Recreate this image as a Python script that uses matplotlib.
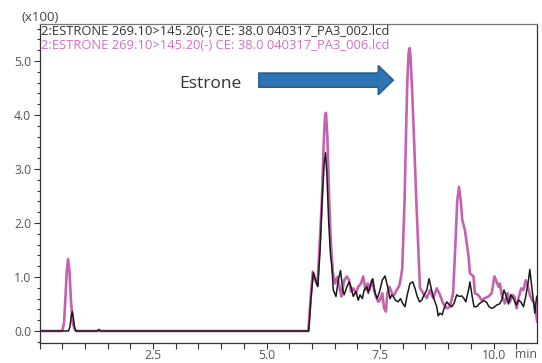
import matplotlib.pyplot as plt
from matplotlib.patches import FancyArrow
from matplotlib.ticker import MultipleLocator, FixedLocator

# chromatogram traces, intensity in units of 100
pink_t = [0.00, 0.50, 0.54, 0.57, 0.60, 0.63, 0.66, 0.69, 0.73, 0.78, 0.82,
          5.92, 5.97, 6.02, 6.07, 6.12, 6.17, 6.22, 6.26, 6.29, 6.31, 6.34, 6.38, 6.42, 6.46,
          6.51, 6.56, 6.62, 6.65, 6.71, 6.77, 6.82, 6.86, 6.91, 6.97, 7.02, 7.08, 7.13, 7.18,
          7.23, 7.27, 7.32, 7.37, 7.41, 7.46, 7.50, 7.55, 7.59, 7.63, 7.66, 7.71, 7.76, 7.81,
          7.87, 7.92, 7.95, 7.99, 8.04, 8.07, 8.10, 8.13, 8.15, 8.17, 8.21, 8.25, 8.30, 8.35,
          8.38, 8.45, 8.53, 8.60, 8.67, 8.75, 8.82, 8.89, 8.97, 9.04, 9.11, 9.16, 9.20, 9.24,
          9.28, 9.31, 9.37, 9.45, 9.48, 9.56, 9.59, 9.66, 9.74, 9.81, 9.89, 9.96, 10.02, 10.07,
          10.11, 10.14, 10.18, 10.25, 10.31, 10.36, 10.41, 10.46, 10.51, 10.56, 10.61, 10.66,
          10.71, 10.75, 10.80, 10.85, 10.91, 10.96]
pink_y = [0.00, 0.00, 0.15, 0.60, 1.10, 1.33, 1.10, 0.60, 0.15, 0.02, 0.00,
          0.00, 0.60, 1.10, 0.95, 0.85, 1.60, 2.43, 3.50, 4.00, 4.04, 3.60, 2.43, 1.60, 1.10,
          0.88, 1.00, 0.76, 0.64, 0.94, 1.01, 0.94, 0.73, 0.79, 0.70, 0.82, 0.88, 1.01, 0.76,
          0.88, 0.76, 0.94, 0.76, 0.64, 0.54, 0.57, 0.70, 0.42, 0.36, 0.70, 0.82, 0.70, 0.67,
          0.76, 0.83, 0.94, 1.16, 2.40, 3.54, 4.60, 5.15, 5.24, 5.10, 4.40, 3.54, 2.40, 1.40,
          0.80, 0.70, 0.61, 0.76, 0.61, 0.79, 0.67, 0.51, 0.42, 0.45, 0.70, 1.60, 2.40, 2.67,
          2.40, 2.06, 1.87, 1.38, 1.07, 1.01, 0.70, 0.67, 0.57, 0.61, 0.64, 0.70, 1.01, 0.91,
          0.82, 0.88, 0.67, 0.51, 0.70, 0.54, 0.67, 0.64, 0.42, 0.64, 0.79, 0.76,
          0.94, 0.85, 0.67, 0.57, 0.51, 0.17]

black_t = [0.00, 0.64, 0.67, 0.70, 0.72, 0.74, 0.77, 0.80, 1.27, 1.31, 1.35,
           5.93, 5.98, 6.03, 6.08, 6.13, 6.18, 6.23, 6.27, 6.30, 6.33, 6.37, 6.41, 6.44, 6.47,
           6.53, 6.58, 6.63, 6.68, 6.71, 6.77, 6.82, 6.86, 6.91, 6.97, 7.02, 7.06, 7.11, 7.15,
           7.21, 7.24, 7.28, 7.34, 7.39, 7.44, 7.50, 7.55, 7.61, 7.66, 7.72, 7.76, 7.79, 7.84,
           7.90, 7.95, 8.00, 8.05, 8.10, 8.16, 8.22, 8.27, 8.32, 8.37, 8.42, 8.47, 8.53, 8.58,
           8.62, 8.67, 8.71, 8.75, 8.78, 8.82, 8.87, 8.91, 8.97, 9.03, 9.08, 9.13, 9.19, 9.24,
           9.30, 9.35, 9.39, 9.45, 9.48, 9.53, 9.57, 9.63, 9.68, 9.74, 9.79, 9.85, 9.90, 9.96,
           10.01, 10.07, 10.13, 10.18, 10.23, 10.27, 10.33, 10.38, 10.44, 10.50, 10.55, 10.60,
           10.66, 10.71, 10.77, 10.80, 10.85, 10.91, 10.95]
black_y = [0.00, 0.00, 0.08, 0.28, 0.36, 0.28, 0.08, 0.00, 0.00, 0.03, 0.00,
           0.00, 0.60, 1.08, 0.95, 0.82, 1.50, 2.50, 3.10, 3.30, 2.90, 2.00, 1.40, 1.19, 0.76,
           0.64, 0.94, 1.12, 0.76, 0.67, 0.82, 0.91, 0.82, 0.64, 0.73, 0.57, 0.67, 0.60, 0.76,
           0.82, 0.70, 0.82, 0.97, 0.70, 0.60, 0.76, 0.94, 1.02, 0.85, 0.60, 0.67, 0.64, 0.57,
           0.54, 0.60, 0.51, 0.45, 0.67, 0.88, 0.91, 0.79, 0.64, 0.54, 0.57, 0.67, 0.76, 0.97,
           0.82, 0.64, 0.54, 0.45, 0.28, 0.33, 0.30, 0.42, 0.54, 0.48, 0.45, 0.51, 0.67, 0.64,
           0.65, 0.60, 0.54, 0.76, 0.91, 0.64, 0.45, 0.45, 0.50, 0.54, 0.56, 0.53, 0.45, 0.42,
           0.44, 0.48, 0.50, 0.57, 0.76, 0.67, 0.50, 0.67, 0.60, 0.48, 0.57, 0.54,
           0.45, 0.64, 0.94, 1.14, 0.76, 0.33, 0.64]

trace_labels = ['2:ESTRONE 269.10>145.20(-) CE: 38.0 040317_PA3_002.lcd',
                '2:ESTRONE 269.10>145.20(-) CE: 38.0 040317_PA3_006.lcd']
x_ticks = [2.5, 5.0, 7.5, 10.0]
y_ticks = [0, 1, 2, 3, 4, 5]

plt.rcParams['font.family'] = ['Open Sans', 'DejaVu Sans']

fig = plt.figure(figsize=(5.42, 3.63), dpi=100)
ax = fig.add_axes([0.0729, 0.0551, 0.9179, 0.8788])

pink = '#c462b0'
ax.plot(pink_t, pink_y, color=pink, linewidth=1.9, solid_joinstyle='round')
ax.plot(black_t, black_y, color='#1a1a1a', linewidth=1.1, solid_joinstyle='round')

ax.set_xlim(0, 10.958)
ax.set_ylim(-0.222, 5.685)

ax.xaxis.set_major_locator(FixedLocator(x_ticks))
ax.xaxis.set_minor_locator(MultipleLocator(0.5))
ax.yaxis.set_major_locator(FixedLocator(y_ticks))
ax.yaxis.set_minor_locator(MultipleLocator(0.2))
ax.set_yticklabels(['%.1f' % v for v in y_ticks])
ax.set_xticklabels(['%.1f' % v for v in x_ticks])
ax.tick_params(which='both', direction='out', colors='#333333', labelcolor='#555555',
               labelsize=8.8, width=0.8)
ax.tick_params(axis='x', which='both', length=4, pad=0.5)
ax.tick_params(axis='y', which='major', length=4, pad=2)
ax.tick_params(axis='y', which='minor', length=2)

for side in ['left', 'bottom', 'right']:
    ax.spines[side].set_color('#333333')
    ax.spines[side].set_linewidth(0.9)
ax.spines['top'].set_color('#777777')
ax.spines['top'].set_linewidth(0.9)

ax.text(0.003, 0.978, trace_labels[0], transform=ax.transAxes, fontsize=9.4,
        color='#333333', ha='left', va='center')
ax.text(0.003, 0.934, trace_labels[1], transform=ax.transAxes, fontsize=9.4,
        color='#d072c0', ha='left', va='center')
fig.text(0.040, 0.953, '(x100)', fontsize=9.6, color='#444444', ha='left', va='center')
ax.text(0.999, -0.035, 'min', transform=ax.transAxes, fontsize=8.8, color='#555555',
        ha='right', va='center')

ax.text(0.28, 0.812, 'Estrone', transform=ax.transAxes, fontsize=12.5, color='#333333',
        ha='left', va='center')
arrow = FancyArrow(0.441, 0.824, 0.27, 0, width=0.044, head_width=0.091,
                   head_length=0.030, length_includes_head=True,
                   transform=ax.transAxes, facecolor='#2e75b6', edgecolor='#2a5f8a',
                   linewidth=1.2)
ax.add_patch(arrow)

fig.savefig('out.png', dpi=100)
